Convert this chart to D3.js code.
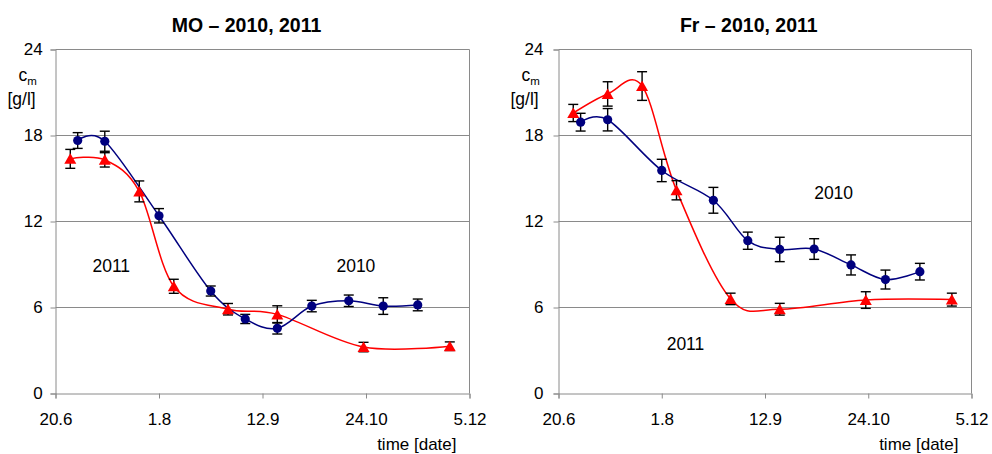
<!DOCTYPE html>
<html>
<head>
<meta charset="utf-8">
<script src="https://cdn.jsdelivr.net/npm/d3@7"></script>
<style>
  body { margin: 0; background: #fff; }
  svg { display: block; }
  text { font-family: "Liberation Sans", Arial, sans-serif; fill: #000; }
</style>
</head>
<body>
<svg id="chart" width="992" height="454"></svg>
<script>
// ---- axis ticks ----
const xTickLabels = ["20.6", "1.8", "12.9", "24.10", "5.12"];
const yTickValues = [0, 6, 12, 18, 24];

// ---- MO panel ----
const moDates2010  = ["29.6", "10.7", "1.8", "22.8", "5.9", "18.9", "2.10", "17.10", "31.10", "14.11"];
const moValues2010 = [17.65, 17.6, 12.4, 7.15, 5.2, 4.55, 6.1, 6.47, 6.1, 6.18];
const moErrors2010 = [0.55, 0.7, 0.5, 0.35, 0.32, 0.4, 0.4, 0.4, 0.58, 0.41];

const moDates2011  = ["26.6", "10.7", "24.7", "7.8", "29.8", "18.9", "23.10", "27.11"];
const moValues2011 = [16.37, 16.3, 14.1, 7.48, 5.88, 5.52, 3.24, 3.3];
const moErrors2011 = [0.66, 0.5, 0.73, 0.49, 0.4, 0.6, 0.33, 0.3];

// ---- Fr panel ----
const frDates2010  = ["29.6", "10.7", "1.8", "22.8", "5.9", "18.9", "2.10", "17.10", "31.10", "14.11"];
const frValues2010 = [18.93, 19.1, 15.56, 13.48, 10.66, 10.05, 10.08, 8.97, 7.95, 8.5];
const frErrors2010 = [0.62, 0.78, 0.78, 0.9, 0.6, 0.85, 0.72, 0.7, 0.66, 0.58];

const frDates2011  = ["26.6", "10.7", "24.7", "7.8", "29.8", "18.9", "23.10", "27.11"];
const frValues2011 = [19.57, 20.9, 21.45, 14.18, 6.6, 5.88, 6.52, 6.55];
const frErrors2011 = [0.6, 0.85, 1.0, 0.67, 0.4, 0.41, 0.58, 0.45];

const seriesNames = ["2010", "2011"];

// ---- drawing ----
const parseDay = d3.timeParse("%d.%m");
const svg = d3.select("#chart");

const COLOR_2010 = "#00007f";
const COLOR_2011 = "#ff0000";
const GRID = "#8a8a8a";

function zip(dates, values, errors) {
  return dates.map((d, i) => ({ date: parseDay(d), value: values[i], err: errors[i] }));
}

const panels = [
  {
    title: "MO – 2010, 2011", titleX: 246.5,
    left: 55.5, right: 469.5, yLabelOffset: 12.8,
    s2010: zip(moDates2010, moValues2010, moErrors2010),
    s2011: zip(moDates2011, moValues2011, moErrors2011),
    labels: [
      { text: seriesNames[1], date: "5.7", value: 8.5 },
      { text: seriesNames[0], date: "12.10", value: 8.5 }
    ]
  },
  {
    title: "Fr – 2010, 2011", titleX: 748.8,
    left: 558.5, right: 971.5, yLabelOffset: 15,
    s2010: zip(frDates2010, frValues2010, frErrors2010),
    s2011: zip(frDates2011, frValues2011, frErrors2011),
    labels: [
      { text: seriesNames[0], date: "2.10", value: 13.55 },
      { text: seriesNames[1], date: "3.8", value: 3.03 }
    ]
  }
];

const TOP = 49.5, BOTTOM = 393.5;

panels.forEach(p => {
  const g = svg.append("g");
  const tickDates = xTickLabels.map(parseDay);
  const x = d3.scaleTime()
    .domain([tickDates[0], tickDates[tickDates.length - 1]])
    .range([p.left, p.right]);
  const y = d3.scaleLinear().domain([0, 24]).range([BOTTOM, TOP]);

  // title
  g.append("text")
    .attr("x", p.titleX).attr("y", 32)
    .attr("text-anchor", "middle")
    .style("font-size", "19.5px").style("font-weight", "bold")
    .text(p.title);

  // horizontal gridlines
  g.append("g").selectAll("line")
    .data(yTickValues.filter(v => v > 0))
    .join("line")
    .attr("x1", p.left).attr("x2", p.right)
    .attr("y1", d => y(d)).attr("y2", d => y(d))
    .attr("stroke", GRID).attr("stroke-width", 1);

  // plot frame (right side)
  g.append("line")
    .attr("x1", p.right).attr("x2", p.right)
    .attr("y1", TOP).attr("y2", BOTTOM)
    .attr("stroke", GRID);

  // y axis
  const yAxis = d3.axisLeft(y)
    .tickValues(yTickValues)
    .tickSize(5)
    .tickPadding(p.yLabelOffset - 5)
    .tickFormat(d3.format("d"));
  const ya = g.append("g").attr("transform", `translate(${p.left},0)`).call(yAxis);
  ya.select(".domain").attr("stroke", GRID);
  ya.selectAll(".tick line").attr("stroke", GRID);
  ya.selectAll(".tick text")
    .style("font-size", "17px")
    .style("font-family", '"Liberation Sans", Arial, sans-serif')
    .attr("fill", "#000");

  // x axis
  const xAxis = d3.axisBottom(x)
    .tickValues(tickDates)
    .tickSize(5)
    .tickPadding(0)
    .tickFormat((d, i) => xTickLabels[i]);
  const xa = g.append("g").attr("transform", `translate(0,${BOTTOM})`).call(xAxis);
  xa.select(".domain").attr("stroke", GRID);
  xa.selectAll(".tick line").attr("stroke", GRID);
  xa.selectAll(".tick text")
    .attr("dy", null)
    .attr("y", 31.5)
    .style("font-size", "17px")
    .style("font-family", '"Liberation Sans", Arial, sans-serif')
    .attr("fill", "#000");

  // y axis label: c_m [g/l]
  const yl = g.append("text")
    .attr("x", p.left - 37).attr("y", 81)
    .style("font-size", "17.5px");
  yl.append("tspan").text("c");
  yl.append("tspan").attr("dy", 4).style("font-size", "11.5px").text("m");
  g.append("text")
    .attr("x", p.left - 48).attr("y", 104.5)
    .style("font-size", "17.5px")
    .text("[g/l]");

  // x axis label
  g.append("text")
    .attr("x", p.right - 13).attr("y", 449.5)
    .attr("text-anchor", "end")
    .style("font-size", "17px")
    .text("time [date]");

  // smoothed series lines
  const line = d3.line()
    .x(d => x(d.date)).y(d => y(d.value))
    .curve(d3.curveCardinal.tension(0));

  [[p.s2011, COLOR_2011], [p.s2010, COLOR_2010]].forEach(([data, color]) => {
    g.append("path")
      .datum(data)
      .attr("d", line)
      .attr("fill", "none")
      .attr("stroke", color)
      .attr("stroke-width", 1.5);
  });

  // error bars
  const drawErrors = (data) => {
    const eg = g.append("g").attr("stroke", "#000").attr("stroke-width", 1.4);
    data.forEach(d => {
      const cx = x(d.date), yt = y(d.value + d.err), yb = y(d.value - d.err);
      eg.append("line").attr("x1", cx).attr("x2", cx).attr("y1", yt).attr("y2", yb);
      eg.append("line").attr("x1", cx - 5).attr("x2", cx + 5).attr("y1", yt).attr("y2", yt);
      eg.append("line").attr("x1", cx - 5).attr("x2", cx + 5).attr("y1", yb).attr("y2", yb);
    });
  };
  drawErrors(p.s2011);
  drawErrors(p.s2010);

  // markers: triangles for 2011, circles for 2010
  g.append("g").selectAll("path")
    .data(p.s2011)
    .join("path")
    .attr("transform", d => `translate(${x(d.date)},${y(d.value)})`)
    .attr("d", "M0,-5.5L6,5L-6,5Z")
    .attr("fill", COLOR_2011);

  g.append("g").selectAll("circle")
    .data(p.s2010)
    .join("circle")
    .attr("cx", d => x(d.date)).attr("cy", d => y(d.value))
    .attr("r", 4.6)
    .attr("fill", COLOR_2010);

  // series annotations
  g.append("g").selectAll("text")
    .data(p.labels)
    .join("text")
    .attr("x", d => x(parseDay(d.date)))
    .attr("y", d => y(d.value))
    .style("font-size", "17.5px")
    .text(d => d.text);
});
</script>
</body>
</html>
